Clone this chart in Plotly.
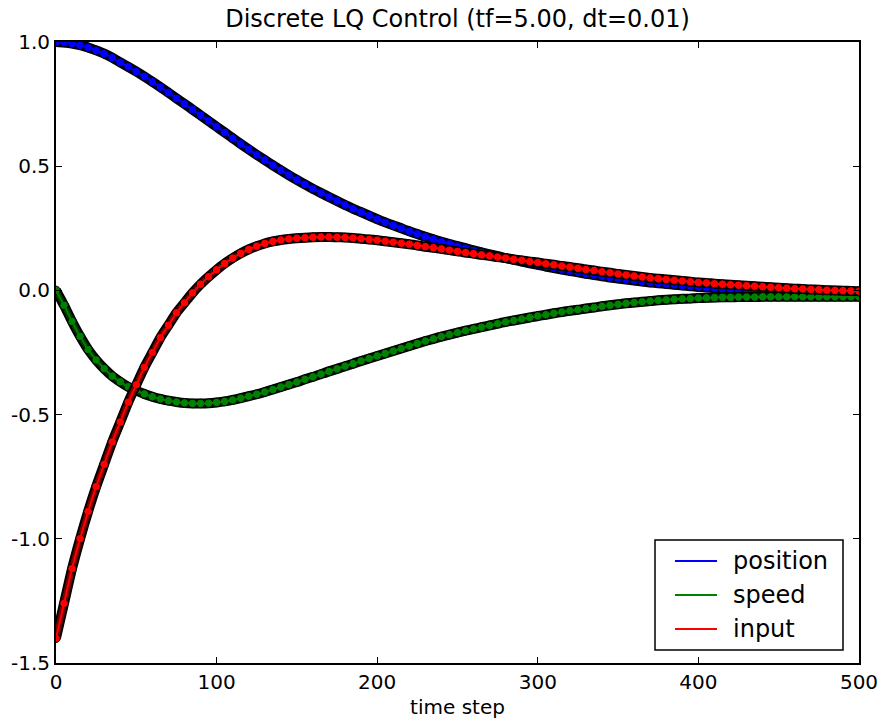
import plotly.graph_objects as go

# time steps at which values were read (every 5 steps)
steps = list(range(0, 501, 5))

position = [
    1.000, 0.998, 0.994, 0.987, 0.978, 0.966, 0.953, 0.937, 0.918, 0.900,
    0.881, 0.861, 0.840, 0.818, 0.796, 0.773, 0.751, 0.728, 0.705, 0.682,
    0.659, 0.636, 0.613, 0.590, 0.568, 0.546, 0.525, 0.504, 0.484, 0.464,
    0.445, 0.427, 0.409, 0.392, 0.376, 0.360, 0.344, 0.329, 0.315, 0.301,
    0.287, 0.274, 0.262, 0.250, 0.238, 0.227, 0.216, 0.206, 0.196, 0.187,
    0.178, 0.170, 0.161, 0.153, 0.145, 0.138, 0.130, 0.123, 0.116, 0.109,
    0.103, 0.096, 0.090, 0.084, 0.078, 0.073, 0.067, 0.062, 0.057, 0.052,
    0.048, 0.044, 0.040, 0.036, 0.032, 0.029, 0.026, 0.023, 0.020, 0.017,
    0.014, 0.012, 0.009, 0.007, 0.005, 0.003, 0.001, -0.001, -0.003, -0.004,
    -0.006, -0.007, -0.009, -0.010, -0.011, -0.012, -0.014, -0.015, -0.016, -0.017,
    -0.018,
]

speed = [
    0.000, -0.060, -0.125, -0.185, -0.238, -0.280, -0.315, -0.345, -0.368, -0.388,
    -0.403, -0.417, -0.428, -0.437, -0.444, -0.449, -0.453, -0.455, -0.455, -0.454,
    -0.451, -0.447, -0.441, -0.434, -0.426, -0.418, -0.409, -0.399, -0.389, -0.379,
    -0.369, -0.358, -0.348, -0.337, -0.326, -0.316, -0.305, -0.295, -0.284, -0.274,
    -0.264, -0.254, -0.244, -0.234, -0.224, -0.214, -0.204, -0.195, -0.186, -0.178,
    -0.170, -0.162, -0.155, -0.148, -0.141, -0.134, -0.127, -0.121, -0.115, -0.109,
    -0.103, -0.098, -0.092, -0.087, -0.082, -0.078, -0.073, -0.069, -0.064, -0.060,
    -0.056, -0.052, -0.049, -0.046, -0.043, -0.040, -0.038, -0.036, -0.034, -0.033,
    -0.031, -0.030, -0.029, -0.028, -0.028, -0.027, -0.027, -0.027, -0.026, -0.026,
    -0.026, -0.026, -0.026, -0.026, -0.026, -0.026, -0.026, -0.026, -0.026, -0.026,
    -0.026,
]

control_input = [
    -1.400, -1.260, -1.120, -1.000, -0.890, -0.790, -0.700, -0.610, -0.530, -0.450,
    -0.380, -0.310, -0.250, -0.190, -0.140, -0.090, -0.050, -0.010, 0.025, 0.055,
    0.083, 0.108, 0.130, 0.149, 0.165, 0.178, 0.189, 0.197, 0.203, 0.207,
    0.210, 0.212, 0.214, 0.215, 0.215, 0.214, 0.213, 0.211, 0.208, 0.205,
    0.202, 0.198, 0.194, 0.190, 0.186, 0.181, 0.176, 0.172, 0.167, 0.162,
    0.157, 0.152, 0.148, 0.143, 0.139, 0.134, 0.130, 0.125, 0.121, 0.116,
    0.112, 0.107, 0.103, 0.098, 0.094, 0.089, 0.084, 0.080, 0.075, 0.071,
    0.066, 0.062, 0.058, 0.054, 0.050, 0.047, 0.044, 0.041, 0.038, 0.035,
    0.032, 0.030, 0.027, 0.025, 0.023, 0.021, 0.019, 0.017, 0.015, 0.013,
    0.011, 0.009, 0.007, 0.006, 0.004, 0.003, 0.001, 0.000, -0.001, -0.002,
    -0.003,
]

series_names = ["position", "speed", "input"]
series_colors = ["#0000ff", "#008000", "#ff0000"]
series_dark = ["#00007a", "#003a00", "#7a0000"]
series_values = [position, speed, control_input]

x_ticks = [0, 100, 200, 300, 400, 500]
x_tick_text = ["0", "100", "200", "300", "400", "500"]
y_ticks = [-1.5, -1.0, -0.5, 0.0, 0.5, 1.0]
y_tick_text = ["-1.5", "-1.0", "-0.5", "0.0", "0.5", "1.0"]

FONT = "DejaVu Sans"

fig = go.Figure()
for name, color, dark, vals in zip(series_names, series_colors, series_dark, series_values):
    # dark envelope of the densely packed, black-edged markers
    fig.add_trace(go.Scatter(
        x=steps, y=vals, mode="lines", showlegend=False, hoverinfo="skip",
        line=dict(color="black", width=10, shape="spline", smoothing=0.6),
    ))
    fig.add_trace(go.Scatter(
        x=steps, y=vals, mode="lines", showlegend=False, hoverinfo="skip",
        line=dict(color=dark, width=6, shape="spline", smoothing=0.6),
    ))
    fig.add_trace(go.Scatter(
        x=steps, y=vals, mode="markers", showlegend=False, hoverinfo="skip",
        marker=dict(size=8.5, color=color, line=dict(color="black", width=1)),
    ))
    fig.add_trace(go.Scatter(
        x=steps, y=vals, mode="lines", name=name, showlegend=False,
        line=dict(color=color, width=2, shape="spline", smoothing=0.6),
    ))

axis_common = dict(
    showline=True, linecolor="black", linewidth=2, mirror="allticks",
    ticks="inside", ticklen=6, tickwidth=1, tickcolor="black",
    showgrid=False, zeroline=False, automargin=False,
    tickfont=dict(family=FONT, size=20, color="black"),
)

# legend drawn in paper coordinates (box, line samples, labels)
shapes = [dict(type="rect", xref="paper", yref="paper",
               x0=(655 - 56) / 803, x1=(843 - 56) / 803,
               y0=(663 - 650) / 621, y1=(663 - 540) / 621,
               line=dict(color="black", width=1.5), fillcolor="white", layer="above")]
annotations = []
legend_rows_px = [561, 595, 629]
for name, color, ypx in zip(series_names, series_colors, legend_rows_px):
    yp = (663 - ypx) / 621
    shapes.append(dict(type="line", xref="paper", yref="paper",
                       x0=(675 - 56) / 803, x1=(717 - 56) / 803, y0=yp, y1=yp,
                       line=dict(color=color, width=2), layer="above"))
    annotations.append(dict(text=name, xref="paper", yref="paper",
                            x=(731 - 56) / 803, y=yp, xanchor="left", yanchor="middle",
                            showarrow=False, font=dict(family=FONT, size=24, color="black")))

fig.update_layout(
    width=883, height=721,
    margin=dict(l=56, r=24, t=42, b=58, autoexpand=False),
    paper_bgcolor="white", plot_bgcolor="white",
    title=dict(
        text="Discrete LQ Control (tf=5.00, dt=0.01)",
        x=0.5, xref="paper", xanchor="center",
        y=1 - 19 / 721, yref="container", yanchor="middle",
        font=dict(family=FONT, size=24, color="black"),
    ),
    xaxis=dict(
        range=[0, 500], tickvals=x_ticks, ticktext=x_tick_text,
        title=dict(text="time step", font=dict(family=FONT, size=20, color="black"), standoff=7),
        **axis_common,
    ),
    yaxis=dict(
        range=[-1.5, 1.0], tickvals=y_ticks, ticktext=y_tick_text,
        **axis_common,
    ),
    shapes=shapes,
    annotations=annotations,
    showlegend=False,
)

fig.write_html("out.html")
